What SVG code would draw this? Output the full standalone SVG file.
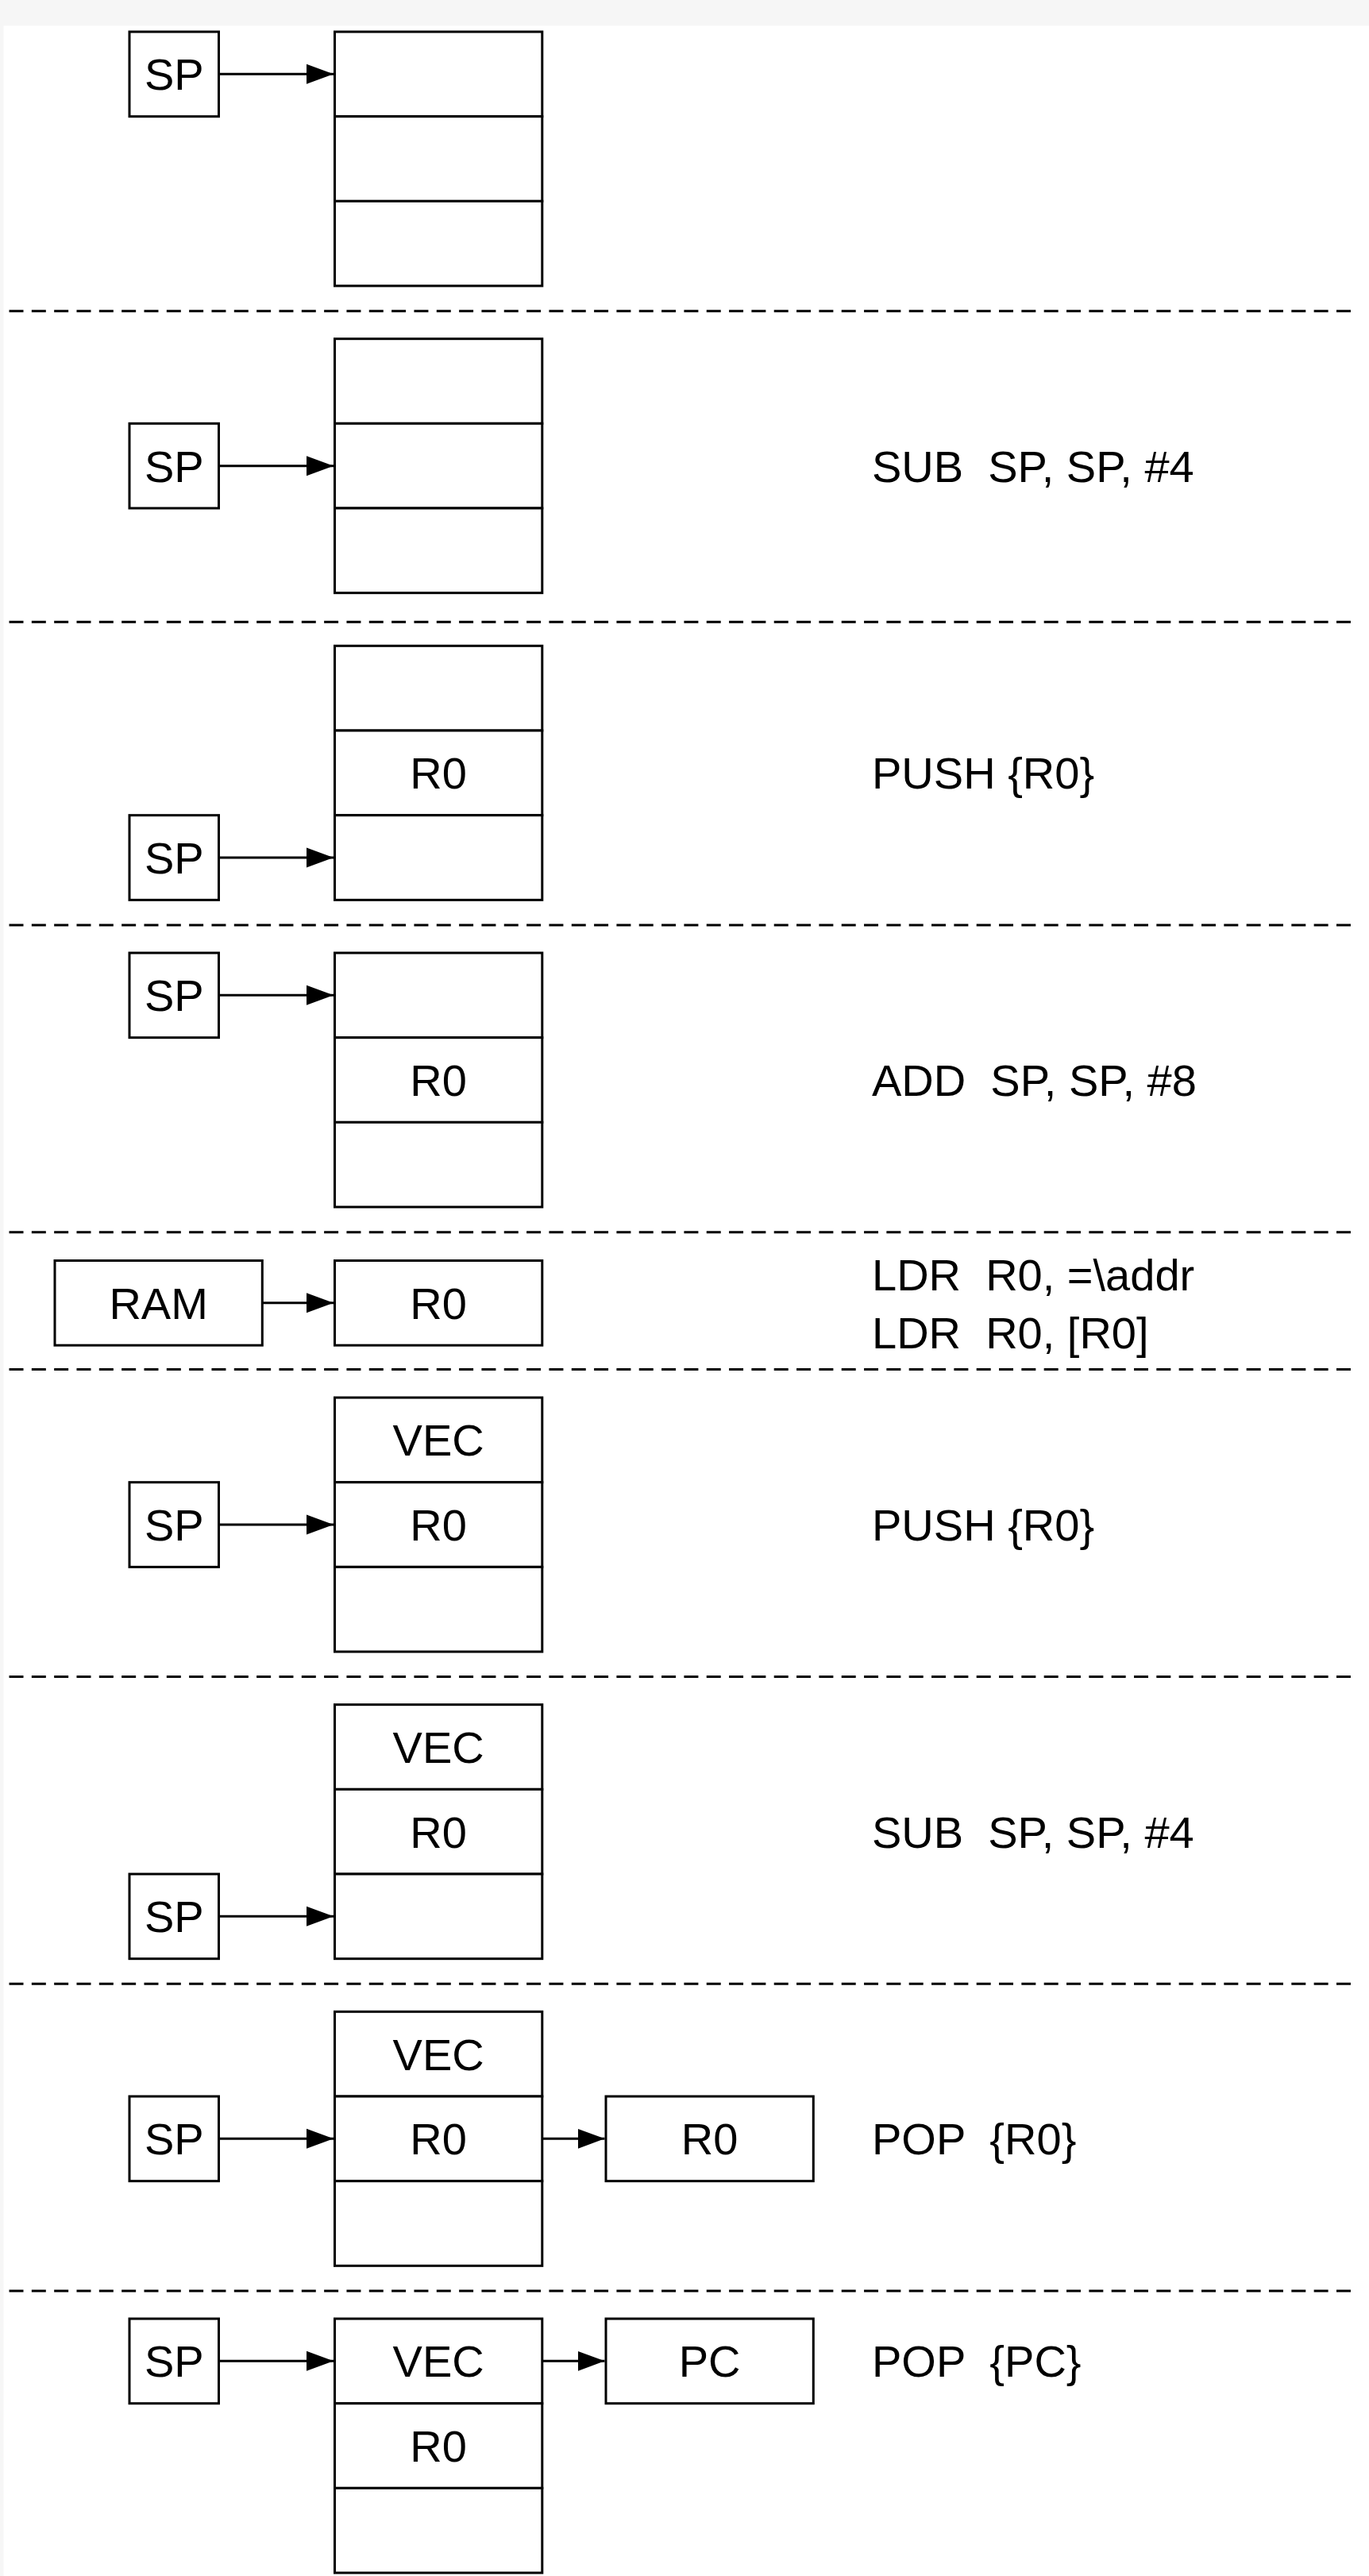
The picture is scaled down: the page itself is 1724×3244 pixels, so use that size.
<svg xmlns="http://www.w3.org/2000/svg" width="1724" height="3244" viewBox="0 0 1724 3244">
<style>
.box{fill:#fff;stroke:#000;stroke-width:3}
.lbl{font-family:"Liberation Sans",Arial,Helvetica,sans-serif;font-size:56px;fill:#000;text-anchor:middle}
.cmd{font-family:"Liberation Sans",Arial,Helvetica,sans-serif;font-size:56px;fill:#000}
.sep{stroke:#000;stroke-width:3;stroke-dasharray:18 10.33;fill:none}
.arr{stroke:#000;stroke-width:3;fill:none;marker-end:url(#ah)}
</style>
<defs>
<marker id="ah" markerUnits="userSpaceOnUse" markerWidth="36" markerHeight="28" refX="34" refY="13" orient="auto">
<path d="M0,0.5 L34,13 L0,25.5 Z" fill="#000"/>
</marker>
</defs>
<rect x="0" y="0" width="1724" height="3244" fill="#f6f6f6"/>
<rect x="4.5" y="32.5" width="1719.5" height="3211.5" fill="#fff"/>

<g id="separators">
<line class="sep" x1="11.5" y1="391.7" x2="1703" y2="391.7"/>
<line class="sep" x1="11.5" y1="783.3" x2="1703" y2="783.3"/>
<line class="sep" x1="11.5" y1="1165" x2="1703" y2="1165"/>
<line class="sep" x1="11.5" y1="1551.7" x2="1703" y2="1551.7"/>
<line class="sep" x1="11.5" y1="1724.5" x2="1703" y2="1724.5"/>
<line class="sep" x1="11.5" y1="2111.5" x2="1703" y2="2111.5"/>
<line class="sep" x1="11.5" y1="2498.3" x2="1703" y2="2498.3"/>
<line class="sep" x1="11.5" y1="2885" x2="1703" y2="2885"/>
</g>

<!-- Stage 1 -->
<g id="stack1">
<rect class="box" x="421.5" y="40" width="261.3" height="106.67"/>
<rect class="box" x="421.5" y="146.67" width="261.3" height="106.67"/>
<rect class="box" x="421.5" y="253.33" width="261.3" height="106.67"/>
</g>
<g id="sp1"><rect class="box" x="163" y="40" width="112.5" height="106.67"/><text class="lbl" x="219.25" y="113.33">SP</text></g>

<!-- Stage 2 -->
<g id="stack2">
<rect class="box" x="421.5" y="426.67" width="261.3" height="106.67"/>
<rect class="box" x="421.5" y="533.33" width="261.3" height="106.67"/>
<rect class="box" x="421.5" y="640" width="261.3" height="106.67"/>
</g>
<g id="sp2"><rect class="box" x="163" y="533.33" width="112.5" height="106.67"/><text class="lbl" x="219.25" y="606.67">SP</text></g>
<g id="cmd2"><text class="cmd" x="1098" y="606.67" xml:space="preserve">SUB  SP, SP, #4</text></g>

<!-- Stage 3 -->
<g id="stack3">
<rect class="box" x="421.5" y="813.33" width="261.3" height="106.67"/>
<rect class="box" x="421.5" y="920" width="261.3" height="106.67"/>
<text class="lbl" x="552.15" y="993.33">R0</text>
<rect class="box" x="421.5" y="1026.67" width="261.3" height="106.67"/>
</g>
<g id="sp3"><rect class="box" x="163" y="1026.67" width="112.5" height="106.67"/><text class="lbl" x="219.25" y="1100">SP</text></g>
<g id="cmd3"><text class="cmd" x="1098" y="993.33" xml:space="preserve">PUSH {R0}</text></g>

<!-- Stage 4 -->
<g id="stack4">
<rect class="box" x="421.5" y="1200" width="261.3" height="106.67"/>
<rect class="box" x="421.5" y="1306.67" width="261.3" height="106.67"/>
<text class="lbl" x="552.15" y="1380">R0</text>
<rect class="box" x="421.5" y="1413.33" width="261.3" height="106.67"/>
</g>
<g id="sp4"><rect class="box" x="163" y="1200" width="112.5" height="106.67"/><text class="lbl" x="219.25" y="1273.33">SP</text></g>
<g id="cmd4"><text class="cmd" x="1098" y="1380" xml:space="preserve">ADD  SP, SP, #8</text></g>

<!-- Stage 5 -->
<g id="ram5"><rect class="box" x="69" y="1587.5" width="261.3" height="106.67"/><text class="lbl" x="199.65" y="1660.8">RAM</text></g>
<g id="r05"><rect class="box" x="421.5" y="1587.5" width="261.3" height="106.67"/><text class="lbl" x="552.15" y="1660.8">R0</text></g>
<g id="cmd5">
<text class="cmd" x="1098" y="1624.5" xml:space="preserve">LDR  R0, =\addr</text>
<text class="cmd" x="1098" y="1697.5" xml:space="preserve">LDR  R0, [R0]</text>
</g>

<!-- Stage 6 -->
<g id="stack6">
<rect class="box" x="421.5" y="1760" width="261.3" height="106.67"/>
<text class="lbl" x="552.15" y="1833.33">VEC</text>
<rect class="box" x="421.5" y="1866.67" width="261.3" height="106.67"/>
<text class="lbl" x="552.15" y="1940">R0</text>
<rect class="box" x="421.5" y="1973.33" width="261.3" height="106.67"/>
</g>
<g id="sp6"><rect class="box" x="163" y="1866.67" width="112.5" height="106.67"/><text class="lbl" x="219.25" y="1940">SP</text></g>
<g id="cmd6"><text class="cmd" x="1098" y="1940" xml:space="preserve">PUSH {R0}</text></g>

<!-- Stage 7 -->
<g id="stack7">
<rect class="box" x="421.5" y="2146.67" width="261.3" height="106.67"/>
<text class="lbl" x="552.15" y="2220">VEC</text>
<rect class="box" x="421.5" y="2253.33" width="261.3" height="106.67"/>
<text class="lbl" x="552.15" y="2326.67">R0</text>
<rect class="box" x="421.5" y="2360" width="261.3" height="106.67"/>
</g>
<g id="sp7"><rect class="box" x="163" y="2360" width="112.5" height="106.67"/><text class="lbl" x="219.25" y="2433.33">SP</text></g>
<g id="cmd7"><text class="cmd" x="1098" y="2326.67" xml:space="preserve">SUB  SP, SP, #4</text></g>

<!-- Stage 8 -->
<g id="stack8">
<rect class="box" x="421.5" y="2533.33" width="261.3" height="106.67"/>
<text class="lbl" x="552.15" y="2606.67">VEC</text>
<rect class="box" x="421.5" y="2640" width="261.3" height="106.67"/>
<text class="lbl" x="552.15" y="2713.33">R0</text>
<rect class="box" x="421.5" y="2746.67" width="261.3" height="106.67"/>
</g>
<g id="sp8"><rect class="box" x="163" y="2640" width="112.5" height="106.67"/><text class="lbl" x="219.25" y="2713.33">SP</text></g>
<g id="r08"><rect class="box" x="763" y="2640" width="261.3" height="106.67"/><text class="lbl" x="893.65" y="2713.33">R0</text></g>
<g id="cmd8"><text class="cmd" x="1098" y="2713.33" xml:space="preserve">POP  {R0}</text></g>

<!-- Stage 9 -->
<g id="stack9">
<rect class="box" x="421.5" y="2920" width="261.3" height="106.67"/>
<text class="lbl" x="552.15" y="2993.33">VEC</text>
<rect class="box" x="421.5" y="3026.67" width="261.3" height="106.67"/>
<text class="lbl" x="552.15" y="3100">R0</text>
<rect class="box" x="421.5" y="3133.33" width="261.3" height="106.67"/>
</g>
<g id="sp9"><rect class="box" x="163" y="2920" width="112.5" height="106.67"/><text class="lbl" x="219.25" y="2993.33">SP</text></g>
<g id="pc9"><rect class="box" x="763" y="2920" width="261.3" height="106.67"/><text class="lbl" x="893.65" y="2993.33">PC</text></g>
<g id="cmd9"><text class="cmd" x="1098" y="2993.33" xml:space="preserve">POP  {PC}</text></g>

<g id="connectors">
<line class="arr" x1="275.5" y1="93.33" x2="420" y2="93.33"/>
<line class="arr" x1="275.5" y1="586.67" x2="420" y2="586.67"/>
<line class="arr" x1="275.5" y1="1080" x2="420" y2="1080"/>
<line class="arr" x1="275.5" y1="1253.33" x2="420" y2="1253.33"/>
<line class="arr" x1="330.3" y1="1640.8" x2="420" y2="1640.8"/>
<line class="arr" x1="275.5" y1="1920" x2="420" y2="1920"/>
<line class="arr" x1="275.5" y1="2413.33" x2="420" y2="2413.33"/>
<line class="arr" x1="275.5" y1="2693.33" x2="420" y2="2693.33"/>
<line class="arr" x1="682.8" y1="2693.33" x2="761.5" y2="2693.33"/>
<line class="arr" x1="275.5" y1="2973.33" x2="420" y2="2973.33"/>
<line class="arr" x1="682.8" y1="2973.33" x2="761.5" y2="2973.33"/>
</g>
</svg>
